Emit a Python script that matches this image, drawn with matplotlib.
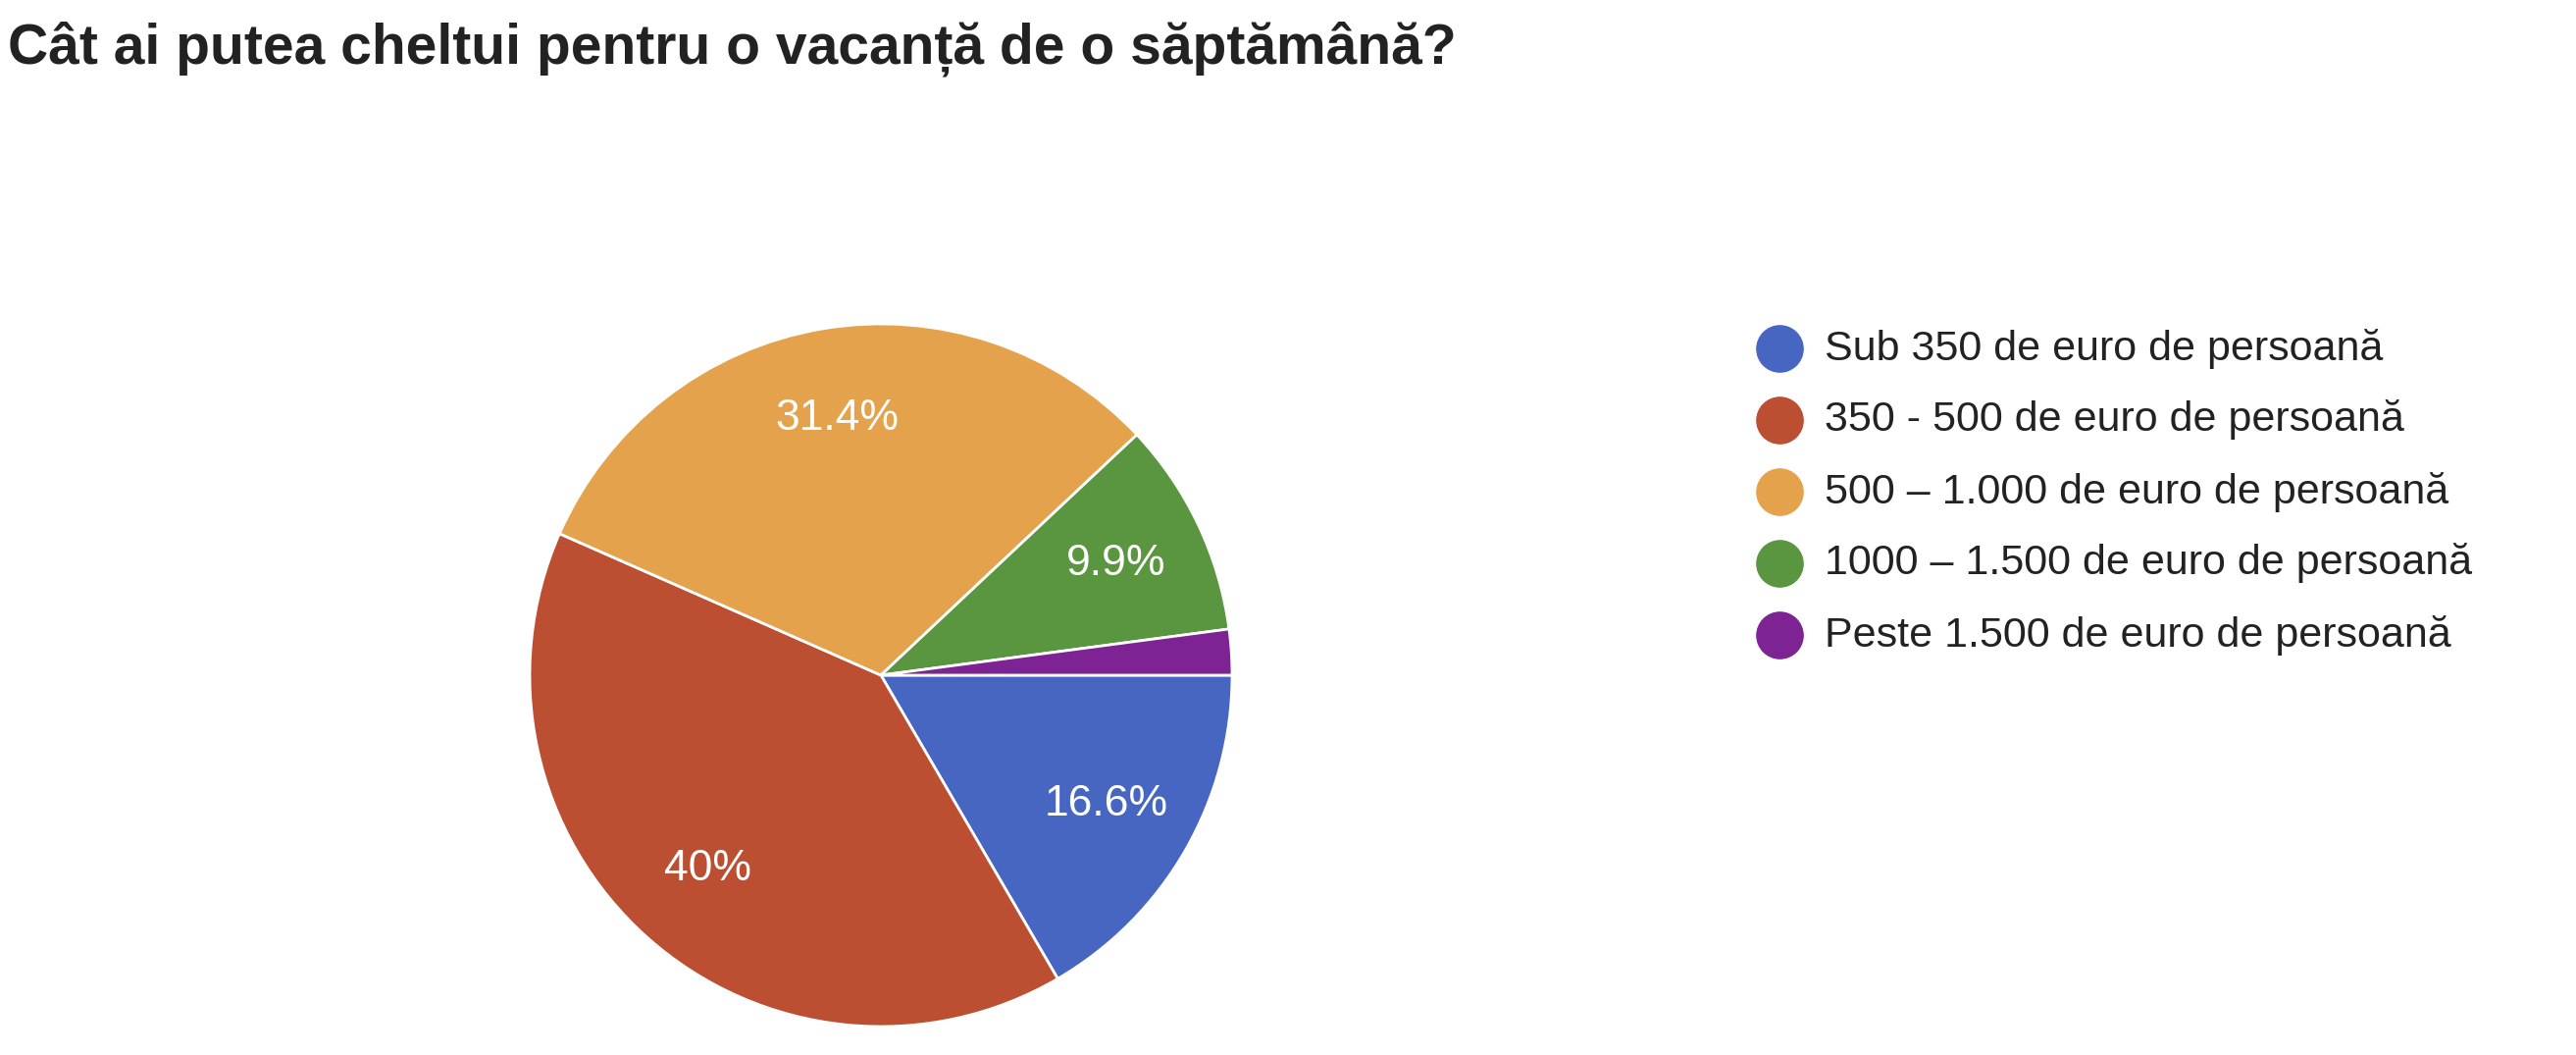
import matplotlib
matplotlib.use("Agg")
import matplotlib.pyplot as plt
from matplotlib.lines import Line2D

title = "Cât ai putea cheltui pentru o vacanță de o săptămână?"
categories = ["Sub 350 de euro de persoană", "350 - 500 de euro de persoană",
              "500 – 1.000 de euro de persoană", "1000 – 1.500 de euro de persoană",
              "Peste 1.500 de euro de persoană"]
values = [16.6, 40.0, 31.4, 9.9, 2.1]
labels = ["16.6%", "40%", "31.4%", "9.9%", ""]
colors = ["#4766C2", "#BC4F31", "#E4A24C", "#5A9540", "#7E2394"]

plt.rcParams['font.family'] = ['Liberation Sans', 'DejaVu Sans']
W, H = 2626, 1075
fig = plt.figure(figsize=(W/100, H/100), dpi=100)
fig.text(8/W, 1-50/H, title, fontsize=41, fontweight='bold', va='center', ha='left', color='#222222')

cx, cy, r = 898, 688, 358
ax = fig.add_axes([(cx-r)/W, 1-(cy+r)/H, 2*r/W, 2*r/H])
wedges, texts = ax.pie(values, colors=colors, startangle=0, counterclock=False,
                       labels=labels, labeldistance=0.74,
                       wedgeprops=dict(edgecolor='white', linewidth=2),
                       textprops=dict(color='white', fontsize=32, ha='center', va='center'))
ax.set_aspect('equal')
ax.set_xlim(-1, 1); ax.set_ylim(-1, 1)
ax.axis('off')

x0, y0, dy = 1814, 355, 73
for i, (c, col) in enumerate(zip(categories, colors)):
    y = 1 - (y0 + i*dy)/H
    fig.add_artist(Line2D([x0/W], [y], marker='o', markersize=34, color=col,
                          transform=fig.transFigure, linestyle='none'))
    fig.text((x0+46)/W, y, c, fontsize=31, va='center', ha='left', color='#222222')

fig.savefig("out.png", dpi=100)
